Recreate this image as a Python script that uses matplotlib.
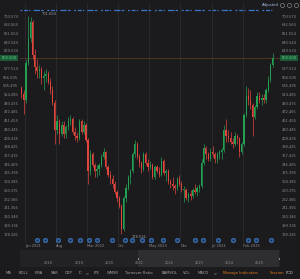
import matplotlib
matplotlib.use('Agg')
import matplotlib.pyplot as plt
import matplotlib.dates as mdates
import numpy as np
import pandas as pd
from matplotlib.patches import Rectangle

W, H = 300, 279
BG = '#1b1b1d'
UP = '#23a052'
DOWN = '#e2453c'
GRID = '#2b2b2e'
LBL = '#8c8c90'

# ---------------- data (semi-monthly candles, adjusted price) ----------------
opens = [530, 515, 500, 590, 650, 690, 610, 580, 570, 575, 555, 560, 565, 545, 525, 495,
         430, 450, 420, 440, 420, 435, 450, 455, 425, 415, 410, 450, 425, 440, 405, 330,
         370, 345, 330, 335, 345, 365, 375, 340, 320, 310, 300, 280, 265, 245, 190, 265,
         290, 315, 330, 370, 395, 365, 350, 335, 370, 350, 340, 345, 315, 340, 330, 320,
         355, 325, 330, 305, 300, 295, 290, 310, 300, 285, 285, 265, 275, 270, 285, 280,
         290, 295, 350, 385, 370, 360, 375, 370, 360, 370, 375, 380, 430, 415, 410, 400,
         395, 415, 410, 375, 395, 465, 510, 500, 490, 460, 485, 510, 500, 505, 500, 525,
         550, 585]
highs = [535, 525, 600, 703.5, 700, 695, 625, 600, 585, 580, 570, 575, 570, 555, 535, 500,
         465, 455, 450, 450, 440, 460, 465, 460, 435, 425, 455, 455, 450, 445, 410, 380,
         375, 350, 345, 350, 370, 385, 378, 345, 330, 320, 305, 285, 270, 250, 270, 300,
         320, 335, 375, 405, 400, 370, 355, 375, 375, 360, 355, 350, 345, 345, 340, 365,
         358, 335, 335, 310, 315, 300, 315, 320, 305, 295, 290, 280, 285, 290, 300, 295,
         300, 360, 395, 390, 375, 385, 390, 375, 375, 380, 385, 440, 455, 430, 425, 410,
         425, 420, 412, 400, 470, 535, 530, 525, 495, 490, 520, 520, 515, 515, 530, 560,
         590, 615]
lows = [505, 468, 495, 585, 640, 600, 565, 555, 555, 540, 525, 545, 540, 515, 490, 395,
        420, 395, 415, 410, 410, 430, 440, 420, 405, 400, 405, 420, 420, 400, 300, 320,
        340, 315, 315, 320, 340, 360, 335, 315, 300, 290, 275, 255, 240, 178.3, 185, 255,
        285, 300, 325, 365, 360, 340, 325, 330, 345, 330, 335, 310, 310, 325, 315, 318,
        320, 305, 300, 290, 285, 275, 285, 295, 280, 255, 260, 255, 260, 265, 275, 270,
        280, 290, 345, 360, 355, 355, 365, 350, 350, 360, 360, 375, 400, 400, 395, 385,
        390, 395, 365, 370, 390, 460, 490, 480, 415, 455, 480, 495, 490, 495, 495, 520,
        545, 580]
closes = [515, 500, 590, 650, 690, 610, 580, 570, 575, 555, 560, 565, 545, 525, 495, 430,
          450, 420, 440, 420, 435, 450, 455, 425, 415, 410, 450, 425, 440, 405, 330, 370,
          345, 330, 335, 345, 365, 375, 340, 320, 310, 300, 280, 265, 245, 190, 265, 290,
          315, 330, 370, 395, 365, 350, 335, 370, 350, 340, 345, 315, 340, 330, 320, 355,
          325, 330, 305, 300, 295, 290, 310, 300, 285, 285, 265, 275, 270, 285, 280, 290,
          295, 350, 385, 370, 360, 375, 370, 360, 370, 375, 380, 430, 415, 410, 400, 395,
          415, 410, 375, 395, 465, 510, 500, 490, 460, 485, 510, 500, 505, 500, 525, 550,
          585, 603.5]

month_starts = pd.date_range('2020-12-01', '2025-08-01', freq='MS')
candle_dates = sorted(list(month_starts + pd.Timedelta(days=7)) + list(month_starts + pd.Timedelta(days=22)))

ytick_values = [178.326, 199.336, 220.346, 241.356, 262.366, 283.375, 304.385, 325.395,
                346.405, 367.415, 388.425, 409.435, 430.445, 451.455, 472.465, 493.475,
                514.485, 535.495, 556.505, 577.514, 598.524, 619.534, 640.544, 661.554,
                682.564, 703.574]
xtick_dates = ['2021-01-01', '2021-08-01', '2022-03-01', '2022-10-01', '2023-05-01',
               '2023-12-01', '2024-07-01', '2025-02-01']
xtick_labels = ['Jan 2021', 'Aug', 'Mar 2022', 'Oct', 'May 2023', 'Dec', 'Jul 2024', 'Feb 2025']
event_dates = ['2021-03-22', '2021-05-20', '2021-08-12', '2021-11-05', '2022-01-12',
               '2022-03-12', '2022-05-12', '2022-08-18', '2022-11-15', '2023-01-01',
               '2023-03-15', '2023-05-15', '2023-08-01', '2023-11-06', '2024-03-12',
               '2024-05-06', '2024-08-12', '2024-11-22', '2025-03-10', '2025-05-04',
               '2025-08-10']
last_price = 603.5
high_label = '701.604'
low_label = '178.526'
nav_years = [2018, 2019, 2020, 2021, 2022, 2023, 2024, 2025]
toolbar_items = ['MA', 'BOLL', 'EMA', 'SAR', 'CDP', 'IC', '>', 'P/E', 'WMSR', 'Turnover Ratio',
                 'BAMVOL', 'VOL', 'MACD', '>']
toolbar_x = [6, 19, 35, 51, 65, 79, 86, 94, 107, 125, 162, 183, 198, 214]

# ---------------- figure ----------------
fig = plt.figure(figsize=(W / 100, H / 100), dpi=100, facecolor=BG)

def fx(px):
    return px / W

def fy(py):
    return 1 - py / H

ax = fig.add_axes([fx(20), fy(243), 260 / W, 240 / H], facecolor=BG)
for s in ax.spines.values():
    s.set_visible(False)

# y-range: 178.326 at px 234, 703.574 at px 16
ppu = (234 - 16) / (703.574 - 178.326)
ax.set_ylim(178.326 - (243 - 234) / ppu, 703.574 + (16 - 3) / ppu)
# x-range: Jan 2021 at px 25, Feb 2025 at px 243
d0 = mdates.date2num(pd.Timestamp('2021-01-01'))
d1 = mdates.date2num(pd.Timestamp('2025-02-01'))
ppd = (243 - 25) / (d1 - d0)
ax.set_xlim(d0 - (25 - 20) / ppd, d0 + (280 - 25) / ppd)

cd = mdates.date2num(pd.DatetimeIndex(candle_dates))
o = np.array(opens, float); h = np.array(highs, float)
l = np.array(lows, float); c = np.array(closes, float)
cols = [UP if cc >= oo else DOWN for oo, cc in zip(o, c)]
ax.vlines(cd, l, h, colors=cols, lw=0.5, zorder=3)
ax.bar(cd, np.where(np.abs(c - o) < 1, 1, c - o), bottom=o, width=8, color=cols,
       linewidth=0, zorder=3)

# grid
xt = mdates.date2num(pd.DatetimeIndex(xtick_dates))
for x in xt:
    ax.axvline(x, color=GRID, lw=0.6, zorder=0)

# ticks
ax.set_xticks(xt)
ax.set_xticklabels(xtick_labels, ha='left', fontsize=2.6, color=LBL)
ax.tick_params(axis='x', length=0, pad=0.6)
ax.set_yticks(ytick_values)
ax.set_yticklabels([f'{v:.3f}' for v in ytick_values], fontsize=2.6, color=LBL)
ax.tick_params(axis='y', length=0, labelleft=True, labelright=True, pad=1.2)

# current price line + boxes
ax.axhline(last_price, color='#8a5a26', lw=0.6, ls=(0, (1.2, 1.2)), zorder=2)
ypx = 16 + (703.574 - last_price) * ppu
for x0 in (0, 280):
    fig.patches.append(Rectangle((fx(x0), fy(ypx + 3)), 18 / W, 6 / H, transform=fig.transFigure,
                                 facecolor='#1d5a37', edgecolor='none', zorder=5))
    fig.text(fx(x0 + 9), fy(ypx), f'{last_price:.3f}', fontsize=2.6, color='#5fd68c',
             ha='center', va='center', zorder=6)

# high / low annotations
fig.text(fx(42), fy(14), high_label, fontsize=2.6, color='#9a9a9e', ha='left', va='center')
fig.text(fx(132), fy(237.5), low_label, fontsize=2.6, color='#9a9a9e', ha='left', va='center')

# event markers at bottom
ed = mdates.date2num(pd.DatetimeIndex(event_dates))
tr = ax.get_xaxis_transform()
ax.plot(ed, [0.0125] * len(ed), 'o', ms=3.3, mfc='#2c5a96', mec='#4277bd', mew=0.4,
        transform=tr, clip_on=False, zorder=6)
ax.plot(ed, [0.0125] * len(ed), 'o', ms=1.2, mfc='#16283f', mec='none',
        transform=tr, clip_on=False, zorder=7)

# top dotted legend-like row
ax.plot([d0 - 5 / ppd, d0 + (272 - 25) / ppd], [0.971, 0.971], transform=tr,
        color='#3b78cc', lw=0.9, ls=(0, (1.5, 1.5, 3, 1, 1, 2.5, 5, 1, 2, 3)), zorder=6,
        clip_on=False)

# top-right "Adjusted" and icons
fig.text(fx(270.5), fy(5), 'Adjusted', fontsize=2.8, color='#a9c3e6', ha='center', va='center')
for xi in (282, 289, 296):
    fig.lines.append(plt.Line2D([fx(xi)], [fy(5)], marker='o', ms=3, mfc='none', mec='#9a9aa0',
                                mew=0.4, transform=fig.transFigure))

# navigator
nav = fig.add_axes([fx(20), fy(267), 260 / W, 17 / H], facecolor='#222224')
for s in nav.spines.values():
    s.set_visible(False)
nav.set_xlim(2021 - (139 - 20) / 30.1, 2021 + (280 - 139) / 30.1)
nav.set_ylim(0, 1)
nav.set_yticks([])
nav.axvspan(2021 - (139 - 138) / 30.1, 2021 + (279 - 139) / 30.1, color='#2e2e31', lw=0)
nav.set_xticks(nav_years)
nav.set_xticklabels([str(y) for y in nav_years], fontsize=2.5, color=LBL)
nav.tick_params(axis='x', length=0, pad=-4.5)
for xh in (2021 - 1 / 30.1, 2021 + 140 / 30.1):
    nav.plot([xh, xh], [0.45, 0.55], color='#d0d0d0', lw=0.5)

# toolbar
for txt, x in zip(toolbar_items, toolbar_x):
    fig.text(fx(x), fy(273), txt, fontsize=2.7, color='#a5a5a8', ha='left', va='center')
fig.text(fx(223), fy(273), 'Manage Indicators', fontsize=2.7, color='#e07a1c', ha='left', va='center')
fig.text(fx(270), fy(273), 'Session', fontsize=2.7, color='#e07a1c', ha='left', va='center')
fig.text(fx(285.5), fy(273), 'PCD', fontsize=2.7, color='#c8c8cc', ha='left', va='center')

fig.savefig('out.png', dpi=100, facecolor=BG)
